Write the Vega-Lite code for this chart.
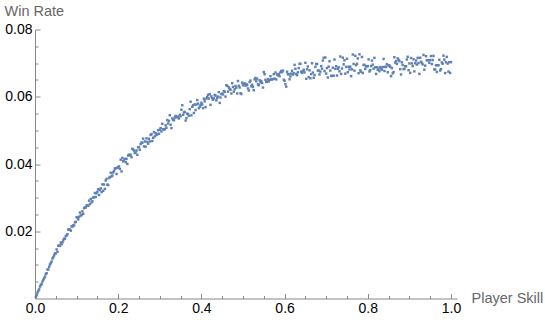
{
"$schema": "https://vega.github.io/schema/vega-lite/v6.json",
"width": 422, "height": 269,
"autosize": "none",
"padding": {"left": 35, "top": 29.5, "right": 88, "bottom": 25.5},
"background": "white",
"config": {"view": {"stroke": null}, "axis": {"grid": false}},
"data": {"values": [
{"x":0.002,"y":0.00043},{"x":0.004,"y":0.00101},{"x":0.006,"y":0.00172},{"x":0.008,"y":0.00227},{"x":0.01,"y":0.00273},
{"x":0.012,"y":0.00355},{"x":0.014,"y":0.00407},{"x":0.016,"y":0.0043},{"x":0.018,"y":0.00503},{"x":0.02,"y":0.00557},
{"x":0.022,"y":0.00602},{"x":0.024,"y":0.00652},{"x":0.026,"y":0.00728},{"x":0.028,"y":0.00753},{"x":0.03,"y":0.00863},
{"x":0.032,"y":0.00863},{"x":0.034,"y":0.00943},{"x":0.036,"y":0.01009},{"x":0.038,"y":0.01054},{"x":0.04,"y":0.01099},
{"x":0.042,"y":0.01189},{"x":0.044,"y":0.01229},{"x":0.046,"y":0.01285},{"x":0.048,"y":0.0134},{"x":0.05,"y":0.0134},
{"x":0.052,"y":0.01459},{"x":0.054,"y":0.01388},{"x":0.056,"y":0.01566},{"x":0.058,"y":0.01575},{"x":0.06,"y":0.01564},
{"x":0.062,"y":0.01663},{"x":0.064,"y":0.01612},{"x":0.066,"y":0.0167},{"x":0.068,"y":0.01729},{"x":0.07,"y":0.01778},
{"x":0.072,"y":0.01777},{"x":0.074,"y":0.01856},{"x":0.076,"y":0.01874},{"x":0.078,"y":0.01913},{"x":0.08,"y":0.02052},
{"x":0.082,"y":0.02051},{"x":0.084,"y":0.0205},{"x":0.086,"y":0.02018},{"x":0.088,"y":0.02147},{"x":0.09,"y":0.02136},
{"x":0.092,"y":0.02175},{"x":0.094,"y":0.02174},{"x":0.096,"y":0.02262},{"x":0.098,"y":0.02281},{"x":0.1,"y":0.0242},
{"x":0.102,"y":0.02397},{"x":0.104,"y":0.02355},{"x":0.106,"y":0.02432},{"x":0.108,"y":0.02555},{"x":0.11,"y":0.02467},
{"x":0.112,"y":0.02484},{"x":0.114,"y":0.02592},{"x":0.116,"y":0.02519},{"x":0.118,"y":0.02687},{"x":0.12,"y":0.02704},
{"x":0.122,"y":0.02706},{"x":0.124,"y":0.02769},{"x":0.126,"y":0.02756},{"x":0.128,"y":0.02759},{"x":0.13,"y":0.02911},
{"x":0.132,"y":0.02808},{"x":0.134,"y":0.02961},{"x":0.136,"y":0.02858},{"x":0.138,"y":0.02891},{"x":0.14,"y":0.02998},
{"x":0.142,"y":0.03015},{"x":0.144,"y":0.03138},{"x":0.146,"y":0.0302},{"x":0.148,"y":0.03128},{"x":0.15,"y":0.03175},
{"x":0.152,"y":0.03249},{"x":0.154,"y":0.03078},{"x":0.156,"y":0.03226},{"x":0.158,"y":0.03275},{"x":0.16,"y":0.03164},
{"x":0.162,"y":0.03393},{"x":0.164,"y":0.03202},{"x":0.166,"y":0.0339},{"x":0.168,"y":0.03259},{"x":0.17,"y":0.03508},
{"x":0.172,"y":0.03557},{"x":0.174,"y":0.03386},{"x":0.176,"y":0.03374},{"x":0.178,"y":0.03583},{"x":0.18,"y":0.03612},
{"x":0.182,"y":0.03741},{"x":0.184,"y":0.0363},{"x":0.186,"y":0.03658},{"x":0.188,"y":0.03747},{"x":0.19,"y":0.03796},
{"x":0.192,"y":0.03865},{"x":0.194,"y":0.03874},{"x":0.196,"y":0.03702},{"x":0.198,"y":0.03891},{"x":0.2,"y":0.039},
{"x":0.202,"y":0.0393},{"x":0.204,"y":0.03855},{"x":0.206,"y":0.04129},{"x":0.208,"y":0.03779},{"x":0.21,"y":0.04179},
{"x":0.212,"y":0.04079},{"x":0.214,"y":0.04104},{"x":0.216,"y":0.04153},{"x":0.218,"y":0.04053},{"x":0.22,"y":0.04153},
{"x":0.222,"y":0.04003},{"x":0.224,"y":0.04253},{"x":0.226,"y":0.04277},{"x":0.228,"y":0.04252},{"x":0.23,"y":0.04277},
{"x":0.232,"y":0.04202},{"x":0.234,"y":0.04452},{"x":0.236,"y":0.04426},{"x":0.238,"y":0.04401},{"x":0.24,"y":0.04326},
{"x":0.242,"y":0.04351},{"x":0.244,"y":0.04401},{"x":0.246,"y":0.04275},{"x":0.248,"y":0.045},{"x":0.25,"y":0.045},
{"x":0.252,"y":0.04421},{"x":0.254,"y":0.04592},{"x":0.256,"y":0.04637},{"x":0.258,"y":0.04633},{"x":0.26,"y":0.04754},
{"x":0.262,"y":0.04525},{"x":0.264,"y":0.04671},{"x":0.266,"y":0.04516},{"x":0.268,"y":0.04762},{"x":0.27,"y":0.04658},
{"x":0.272,"y":0.04604},{"x":0.274,"y":0.0475},{"x":0.276,"y":0.0467},{"x":0.278,"y":0.04866},{"x":0.28,"y":0.04887},
{"x":0.282,"y":0.04683},{"x":0.284,"y":0.04779},{"x":0.286,"y":0.04949},{"x":0.288,"y":0.0482},{"x":0.29,"y":0.04916},
{"x":0.292,"y":0.04862},{"x":0.294,"y":0.04883},{"x":0.296,"y":0.05003},{"x":0.298,"y":0.04899},{"x":0.3,"y":0.0502},
{"x":0.302,"y":0.05068},{"x":0.304,"y":0.04967},{"x":0.306,"y":0.05195},{"x":0.308,"y":0.05034},{"x":0.31,"y":0.05022},
{"x":0.312,"y":0.0504},{"x":0.314,"y":0.05149},{"x":0.316,"y":0.05077},{"x":0.318,"y":0.05306},{"x":0.32,"y":0.05204},
{"x":0.322,"y":0.05282},{"x":0.324,"y":0.05451},{"x":0.326,"y":0.05169},{"x":0.328,"y":0.05068},{"x":0.33,"y":0.05356},
{"x":0.332,"y":0.05314},{"x":0.334,"y":0.05303},{"x":0.336,"y":0.05381},{"x":0.338,"y":0.0543},{"x":0.34,"y":0.05388},
{"x":0.342,"y":0.05406},{"x":0.344,"y":0.05395},{"x":0.346,"y":0.05353},{"x":0.348,"y":0.05462},{"x":0.35,"y":0.0542},
{"x":0.352,"y":0.05614},{"x":0.354,"y":0.05747},{"x":0.356,"y":0.05461},{"x":0.358,"y":0.05534},{"x":0.36,"y":0.05548},
{"x":0.362,"y":0.05292},{"x":0.364,"y":0.05365},{"x":0.366,"y":0.05499},{"x":0.368,"y":0.05482},{"x":0.37,"y":0.05436},
{"x":0.372,"y":0.0563},{"x":0.374,"y":0.05853},{"x":0.376,"y":0.05447},{"x":0.378,"y":0.057},{"x":0.38,"y":0.05744},
{"x":0.382,"y":0.05518},{"x":0.384,"y":0.05771},{"x":0.386,"y":0.05605},{"x":0.388,"y":0.05768},{"x":0.39,"y":0.05902},
{"x":0.392,"y":0.05796},{"x":0.394,"y":0.05659},{"x":0.396,"y":0.05703},{"x":0.398,"y":0.05746},{"x":0.4,"y":0.0582},
{"x":0.402,"y":0.05771},{"x":0.404,"y":0.05662},{"x":0.406,"y":0.05942},{"x":0.408,"y":0.05863},{"x":0.41,"y":0.05694},
{"x":0.412,"y":0.05945},{"x":0.414,"y":0.05986},{"x":0.416,"y":0.06056},{"x":0.418,"y":0.05947},{"x":0.42,"y":0.06078},
{"x":0.422,"y":0.05759},{"x":0.424,"y":0.0601},{"x":0.426,"y":0.0596},{"x":0.428,"y":0.05911},{"x":0.43,"y":0.05952},
{"x":0.432,"y":0.06053},{"x":0.434,"y":0.06034},{"x":0.436,"y":0.05894},{"x":0.438,"y":0.05965},{"x":0.44,"y":0.06006},
{"x":0.442,"y":0.06137},{"x":0.444,"y":0.05818},{"x":0.446,"y":0.05978},{"x":0.448,"y":0.06079},{"x":0.45,"y":0.0609},
{"x":0.452,"y":0.06069},{"x":0.454,"y":0.06168},{"x":0.456,"y":0.06146},{"x":0.458,"y":0.06005},{"x":0.46,"y":0.06344},
{"x":0.462,"y":0.06323},{"x":0.464,"y":0.06152},{"x":0.466,"y":0.0628},{"x":0.468,"y":0.06229},{"x":0.47,"y":0.06208},
{"x":0.472,"y":0.06097},{"x":0.474,"y":0.06406},{"x":0.476,"y":0.06294},{"x":0.478,"y":0.06153},{"x":0.48,"y":0.06222},
{"x":0.482,"y":0.06321},{"x":0.484,"y":0.0627},{"x":0.486,"y":0.06098},{"x":0.488,"y":0.06467},{"x":0.49,"y":0.06326},
{"x":0.492,"y":0.06275},{"x":0.494,"y":0.06104},{"x":0.496,"y":0.06082},{"x":0.498,"y":0.06421},{"x":0.5,"y":0.0634},
{"x":0.502,"y":0.06387},{"x":0.504,"y":0.06394},{"x":0.506,"y":0.06332},{"x":0.508,"y":0.06374},{"x":0.51,"y":0.06346},
{"x":0.512,"y":0.06248},{"x":0.514,"y":0.06185},{"x":0.516,"y":0.06438},{"x":0.518,"y":0.0648},{"x":0.52,"y":0.06312},
{"x":0.522,"y":0.06354},{"x":0.524,"y":0.06291},{"x":0.526,"y":0.06194},{"x":0.528,"y":0.06516},{"x":0.53,"y":0.06558},
{"x":0.532,"y":0.0646},{"x":0.534,"y":0.06537},{"x":0.536,"y":0.0637},{"x":0.538,"y":0.06342},{"x":0.54,"y":0.06489},
{"x":0.542,"y":0.06426},{"x":0.544,"y":0.06468},{"x":0.546,"y":0.06406},{"x":0.548,"y":0.06273},{"x":0.55,"y":0.06735},
{"x":0.552,"y":0.06671},{"x":0.554,"y":0.06503},{"x":0.556,"y":0.06439},{"x":0.558,"y":0.06446},{"x":0.56,"y":0.06522},
{"x":0.562,"y":0.06458},{"x":0.564,"y":0.065},{"x":0.566,"y":0.06611},{"x":0.568,"y":0.06513},{"x":0.57,"y":0.06519},
{"x":0.572,"y":0.06525},{"x":0.574,"y":0.06672},{"x":0.576,"y":0.06538},{"x":0.578,"y":0.0672},{"x":0.58,"y":0.06516},
{"x":0.582,"y":0.06662},{"x":0.584,"y":0.06634},{"x":0.586,"y":0.06675},{"x":0.588,"y":0.06612},{"x":0.59,"y":0.06723},
{"x":0.592,"y":0.06764},{"x":0.594,"y":0.06736},{"x":0.596,"y":0.06777},{"x":0.598,"y":0.06504},{"x":0.6,"y":0.06475},
{"x":0.602,"y":0.06375},{"x":0.604,"y":0.063},{"x":0.606,"y":0.06744},{"x":0.608,"y":0.06669},{"x":0.61,"y":0.06674},
{"x":0.612,"y":0.06519},{"x":0.614,"y":0.06604},{"x":0.616,"y":0.06688},{"x":0.618,"y":0.06773},{"x":0.62,"y":0.06658},
{"x":0.622,"y":0.06703},{"x":0.624,"y":0.06948},{"x":0.626,"y":0.06832},{"x":0.628,"y":0.06677},{"x":0.63,"y":0.06642},
{"x":0.632,"y":0.06727},{"x":0.634,"y":0.06852},{"x":0.636,"y":0.06976},{"x":0.638,"y":0.06981},{"x":0.64,"y":0.06746},
{"x":0.642,"y":0.06711},{"x":0.644,"y":0.06756},{"x":0.646,"y":0.068},{"x":0.648,"y":0.06725},{"x":0.65,"y":0.0701},
{"x":0.652,"y":0.06533},{"x":0.654,"y":0.06816},{"x":0.656,"y":0.069},{"x":0.658,"y":0.06583},{"x":0.66,"y":0.06786},
{"x":0.662,"y":0.06549},{"x":0.664,"y":0.06672},{"x":0.666,"y":0.06996},{"x":0.668,"y":0.06719},{"x":0.67,"y":0.06562},
{"x":0.672,"y":0.06645},{"x":0.674,"y":0.06888},{"x":0.676,"y":0.06972},{"x":0.678,"y":0.06975},{"x":0.68,"y":0.06778},
{"x":0.682,"y":0.06781},{"x":0.684,"y":0.06664},{"x":0.686,"y":0.06748},{"x":0.688,"y":0.06911},{"x":0.69,"y":0.06834},
{"x":0.692,"y":0.07077},{"x":0.694,"y":0.0716},{"x":0.696,"y":0.06764},{"x":0.698,"y":0.07167},{"x":0.7,"y":0.0669},
{"x":0.702,"y":0.06852},{"x":0.704,"y":0.06573},{"x":0.706,"y":0.06895},{"x":0.708,"y":0.07056},{"x":0.71,"y":0.06778},
{"x":0.712,"y":0.0662},{"x":0.714,"y":0.06621},{"x":0.716,"y":0.06863},{"x":0.718,"y":0.06624},{"x":0.72,"y":0.07106},
{"x":0.722,"y":0.06828},{"x":0.724,"y":0.06909},{"x":0.726,"y":0.06631},{"x":0.728,"y":0.06832},{"x":0.73,"y":0.06874},
{"x":0.732,"y":0.06756},{"x":0.734,"y":0.07197},{"x":0.736,"y":0.06679},{"x":0.738,"y":0.0684},{"x":0.74,"y":0.07162},
{"x":0.742,"y":0.06964},{"x":0.744,"y":0.07085},{"x":0.746,"y":0.06687},{"x":0.748,"y":0.06888},{"x":0.75,"y":0.0713},
{"x":0.752,"y":0.06731},{"x":0.754,"y":0.06892},{"x":0.756,"y":0.06812},{"x":0.758,"y":0.06893},{"x":0.76,"y":0.06614},
{"x":0.762,"y":0.06815},{"x":0.764,"y":0.07256},{"x":0.766,"y":0.06976},{"x":0.768,"y":0.06777},{"x":0.77,"y":0.07218},
{"x":0.772,"y":0.06939},{"x":0.774,"y":0.0698},{"x":0.776,"y":0.0714},{"x":0.778,"y":0.06701},{"x":0.78,"y":0.07262},
{"x":0.782,"y":0.06783},{"x":0.784,"y":0.06744},{"x":0.786,"y":0.07184},{"x":0.788,"y":0.06705},{"x":0.79,"y":0.06946},
{"x":0.792,"y":0.06947},{"x":0.794,"y":0.06828},{"x":0.796,"y":0.06908},{"x":0.798,"y":0.06909},{"x":0.8,"y":0.0691},
{"x":0.802,"y":0.07111},{"x":0.804,"y":0.06752},{"x":0.806,"y":0.06792},{"x":0.808,"y":0.06913},{"x":0.81,"y":0.07074},
{"x":0.812,"y":0.06955},{"x":0.814,"y":0.06836},{"x":0.816,"y":0.07156},{"x":0.818,"y":0.06877},{"x":0.82,"y":0.06678},
{"x":0.822,"y":0.06879},{"x":0.824,"y":0.068},{"x":0.826,"y":0.0684},{"x":0.828,"y":0.06761},{"x":0.83,"y":0.06882},
{"x":0.832,"y":0.06843},{"x":0.834,"y":0.06804},{"x":0.836,"y":0.06884},{"x":0.838,"y":0.07125},{"x":0.84,"y":0.06766},
{"x":0.842,"y":0.06887},{"x":0.844,"y":0.06888},{"x":0.846,"y":0.06968},{"x":0.848,"y":0.06729},{"x":0.85,"y":0.0693},
{"x":0.852,"y":0.06931},{"x":0.854,"y":0.06892},{"x":0.856,"y":0.06612},{"x":0.858,"y":0.06853},{"x":0.86,"y":0.06694},
{"x":0.862,"y":0.06735},{"x":0.864,"y":0.07176},{"x":0.866,"y":0.07016},{"x":0.868,"y":0.07057},{"x":0.87,"y":0.06978},
{"x":0.872,"y":0.07139},{"x":0.874,"y":0.071},{"x":0.876,"y":0.0706},{"x":0.878,"y":0.06821},{"x":0.88,"y":0.06662},
{"x":0.882,"y":0.07023},{"x":0.884,"y":0.06944},{"x":0.886,"y":0.06824},{"x":0.888,"y":0.06825},{"x":0.89,"y":0.06906},
{"x":0.892,"y":0.06907},{"x":0.894,"y":0.07108},{"x":0.896,"y":0.07188},{"x":0.898,"y":0.06789},{"x":0.9,"y":0.0699},
{"x":0.902,"y":0.06711},{"x":0.904,"y":0.07152},{"x":0.906,"y":0.06992},{"x":0.908,"y":0.06913},{"x":0.91,"y":0.07114},
{"x":0.912,"y":0.06755},{"x":0.914,"y":0.06996},{"x":0.916,"y":0.07076},{"x":0.918,"y":0.06957},{"x":0.92,"y":0.07158},
{"x":0.922,"y":0.06999},{"x":0.924,"y":0.0668},{"x":0.926,"y":0.0716},{"x":0.928,"y":0.07041},{"x":0.93,"y":0.07002},
{"x":0.932,"y":0.06963},{"x":0.934,"y":0.07244},{"x":0.936,"y":0.06804},{"x":0.938,"y":0.06925},{"x":0.94,"y":0.07206},
{"x":0.942,"y":0.07087},{"x":0.944,"y":0.07088},{"x":0.946,"y":0.07088},{"x":0.948,"y":0.07009},{"x":0.95,"y":0.0709},
{"x":0.952,"y":0.07211},{"x":0.954,"y":0.06972},{"x":0.956,"y":0.07092},{"x":0.958,"y":0.07213},{"x":0.96,"y":0.06814},
{"x":0.962,"y":0.06815},{"x":0.964,"y":0.06936},{"x":0.966,"y":0.06736},{"x":0.968,"y":0.06937},{"x":0.97,"y":0.06938},
{"x":0.972,"y":0.07099},{"x":0.974,"y":0.0678},{"x":0.976,"y":0.0682},{"x":0.978,"y":0.07021},{"x":0.98,"y":0.06982},
{"x":0.982,"y":0.07223},{"x":0.984,"y":0.07104},{"x":0.986,"y":0.06704},{"x":0.988,"y":0.07025},{"x":0.99,"y":0.07186},
{"x":0.992,"y":0.06987},{"x":0.994,"y":0.06748},{"x":0.996,"y":0.07028},{"x":0.998,"y":0.06709},{"x":1.0,"y":0.0703}
]},
"mark": {"type": "square", "size": 6, "color": "#5E81B5", "opacity": 1},
"encoding": {
 "x": {"field": "x", "type": "quantitative",
  "scale": {"domain": [0, 1.0145], "nice": false, "zero": false},
  "axis": {
   "title": "Player Skill",
   "values": [0,0.05,0.1,0.15,0.2,0.25,0.3,0.35,0.4,0.45,0.5,0.55,0.6,0.65,0.7,0.75,0.8,0.85,0.9,0.95,1],
   "tickSize": {"condition": {"test": "abs(datum.value*5-round(datum.value*5))<0.001", "value": -5}, "value": -3},
   "tickColor": "#888888", "domainColor": "#888888", "tickWidth": 1, "domainWidth": 1,
   "labelExpr": "abs(datum.value*5-round(datum.value*5))<0.001 ? format(datum.value,'.1f') : ''",
   "labelFont": "Liberation Sans", "labelFontSize": 14, "labelColor": "#000000", "labelPadding": 8,
   "labelOverlap": false, "labelFlush": false, "labelBound": false,
   "titleX": 436, "titleY": 0, "titleAlign": "left", "titleBaseline": "middle", "titleAnchor": "start",
   "titleFont": "Liberation Sans", "titleFontSize": 14.5, "titleFontWeight": "normal", "titleColor": "#666666"
  }},
 "y": {"field": "y", "type": "quantitative",
  "scale": {"domain": [0, 0.08], "nice": false, "zero": true},
  "axis": {
   "title": "Win Rate",
   "values": [0.005,0.01,0.015,0.02,0.025,0.03,0.035,0.04,0.045,0.05,0.055,0.06,0.065,0.07,0.075,0.08],
   "tickSize": {"condition": {"test": "abs(datum.value*50-round(datum.value*50))<0.001", "value": -5}, "value": -3},
   "tickColor": "#888888", "domainColor": "#888888", "tickWidth": 1, "domainWidth": 1,
   "labelExpr": "abs(datum.value*50-round(datum.value*50))<0.001 ? format(datum.value,'.2f') : ''",
   "labelFont": "Liberation Sans", "labelFontSize": 14, "labelColor": "#000000", "labelPadding": 8,
   "labelOverlap": false, "labelFlush": false, "labelBound": false,
   "titleX": -31, "titleY": -14.5, "titleAngle": 0, "titleAlign": "left", "titleBaseline": "alphabetic", "titleAnchor": "start",
   "titleFont": "Liberation Sans", "titleFontSize": 14.5, "titleFontWeight": "normal", "titleColor": "#666666"
  }}
}
}
